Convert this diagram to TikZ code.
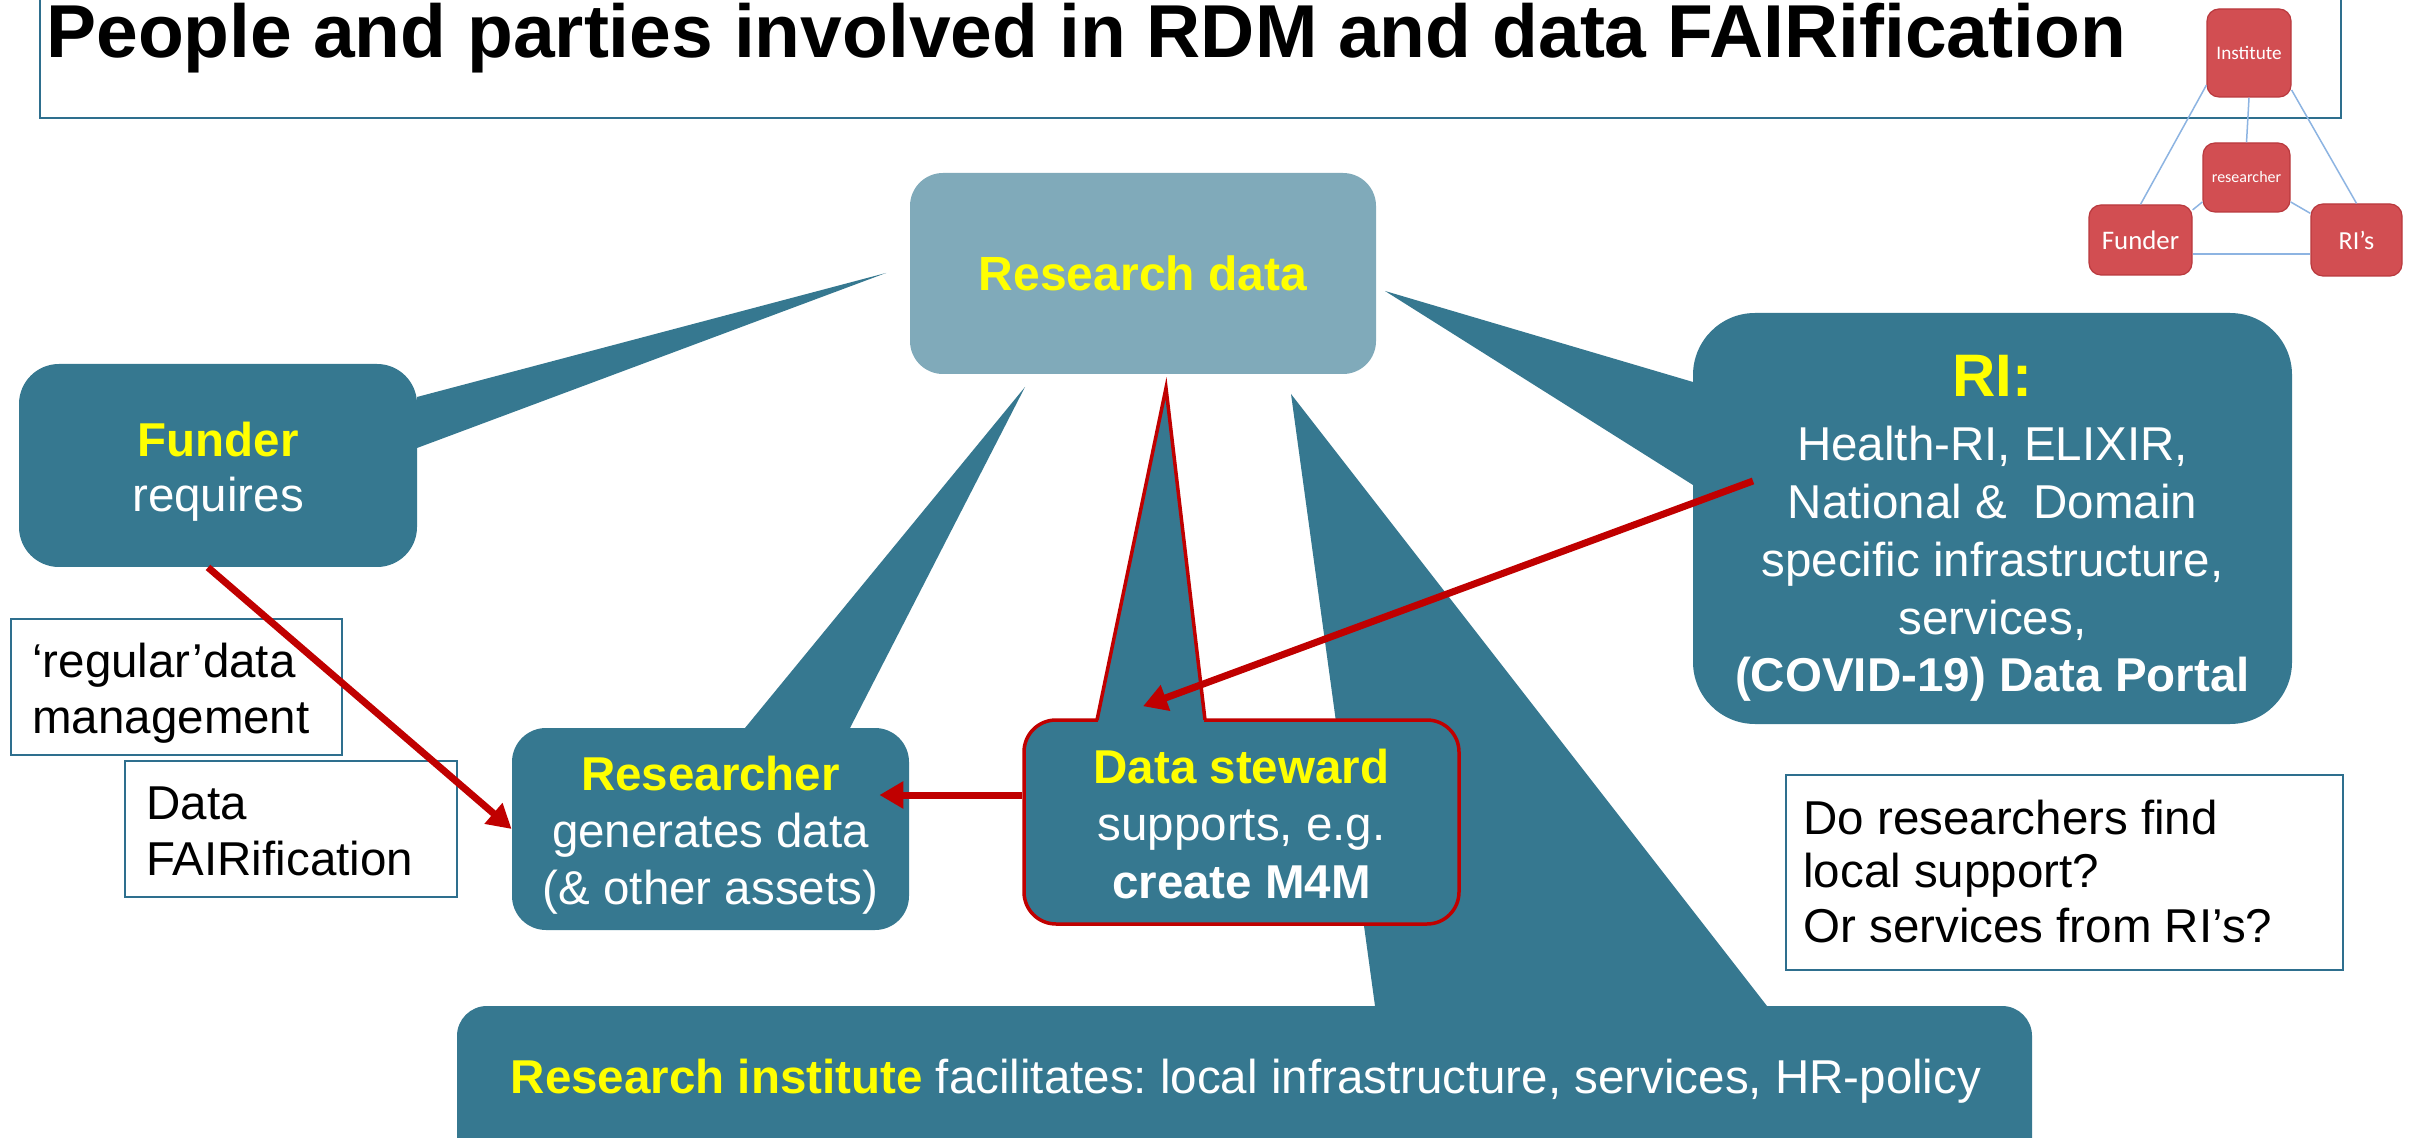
\documentclass[tikz,border=0pt]{standalone}
\usepackage{fontspec}
\setmainfont{Liberation Sans}
\newfontfamily\minifont{Carlito}
\usetikzlibrary{arrows.meta}
\definecolor{teal1}{HTML}{367890}
\definecolor{lightteal}{HTML}{80AABA}
\definecolor{hiyellow}{HTML}{FFFF00}
\definecolor{darkred}{HTML}{C00000}
\definecolor{boxline}{HTML}{2E6F8E}
\definecolor{minired}{HTML}{D24E52}
\definecolor{minibord}{HTML}{B9393E}
\definecolor{minilinkc}{HTML}{8DB4E2}
\frenchspacing
\begin{document}
\begin{tikzpicture}[x=0.5pt,y=-0.5pt,
  callout/.style={rectangle, fill=teal1, inner sep=0pt},
  bodytext/.style={font=\fontsize{23.75pt}{29pt}\selectfont, inner sep=0pt, anchor=base, text=white},
  plaintext/.style={font=\fontsize{23.75pt}{29pt}\selectfont, inner sep=0pt, anchor=base west, text=black},
  textbox/.style={rectangle, draw=boxline, line width=1pt, inner sep=0pt, fill=white},
  minibox/.style={rectangle, rounded corners=6pt, fill=minired, draw=minibord, line width=0.6pt, text=white, inner sep=0pt},
  minilink/.style={draw=minilinkc, line width=0.75pt},
  redarrow/.style={draw=darkred, line width=3.5pt, -{Triangle[length=12pt,width=13pt]}},
]
\useasboundingbox (0,0) rectangle (2414,1138);
\fill[white] (0,0) rectangle (2414,1138);

% title frame and title
\draw[boxline, line width=1.2pt] (40,-10) -- (40,118) -- (2341,118) -- (2341,-10);
\node[anchor=base west, inner sep=0pt, font=\fontsize{37.5pt}{45pt}\selectfont\bfseries] (title) at (46,58) {People and parties involved in RDM and data FAIRification};

% mini diagram
\node[minibox, minimum width=42pt, minimum height=44pt, font=\minifont\fontsize{9.6pt}{11pt}\selectfont] (minst) at (2249,53) {Institute};
\node[minibox, minimum width=43.5pt, minimum height=34.5pt, font=\minifont\fontsize{8pt}{10pt}\selectfont] (mres) at (2246.5,177.5) {researcher};
\node[minibox, minimum width=51.5pt, minimum height=35pt, font=\minifont\fontsize{13.4pt}{15pt}\selectfont] (mfund) at (2140.5,240) {Funder};
\node[minibox, minimum width=45.5pt, minimum height=36pt, font=\minifont\fontsize{13pt}{15pt}\selectfont] (mris) at (2356.5,240) {RI’s};
\draw[minilink] (minst.south) -- (mres.north);
\draw[minilink] (minst.217) -- (mfund.north);
\draw[minilink] (minst.-41) -- (mris.north);
\draw[minilink] (mres.209) -- (mfund.30);
\draw[minilink] (mres.-29) -- (mris.150);
\draw[minilink] (mfund.-15) -- (mfund.-15 -| mris.west);

% research institute (bottom) callout
\fill[teal1] (1375,1006) -- (1291,394) -- (1767,1006) -- cycle;
\node[callout, rounded corners=15pt, minimum width=787.5pt, minimum height=82pt] (inst) at (1244.5,1088) {};
\node[bodytext] (instT) at (1246,1093) {{\color{hiyellow}\bfseries Research institute} facilitates: local infrastructure, services, HR-policy};

% research data
\node[rectangle, fill=lightteal, rounded corners=16.5pt, minimum width=233pt, minimum height=100.5pt, inner sep=0pt, text=hiyellow, font=\fontsize{24pt}{29pt}\selectfont\bfseries] (rdata) at (1143,273.5) {Research data};

% funder callout
\fill[teal1] (417,397) -- (886,273) -- (417,448) -- cycle;
\node[callout, rounded corners=20pt, minimum width=199pt, minimum height=101.5pt] (funder) at (218,465.5) {};
\node[bodytext, text=hiyellow] (funderT1) at (218,457) {\bfseries Funder};
\node[bodytext] (funderT2) at (218,512) {requires};

% RI callout
\fill[teal1] (1693,382) -- (1385,291) -- (1693,485) -- cycle;
\node[callout, rounded corners=31pt, minimum width=299.5pt, minimum height=205.5pt] (ri) at (1992.5,518.5) {};
\node[bodytext, text=hiyellow, font=\fontsize{30pt}{36pt}\selectfont\bfseries] (riT0) at (1992.5,397) {RI:};
\node[bodytext] (riT1) at (1992.5,461) {Health-RI, ELIXIR,};
\node[bodytext] (riT2) at (1992.5,519) {National \& \ Domain};
\node[bodytext] (riT3) at (1992.5,577) {specific infrastructure,};
\node[bodytext] (riT4) at (1992.5,634) {services,};
\node[bodytext] (riT5) at (1992.5,691) {\bfseries (COVID-19) Data Portal};

% researcher callout
\fill[teal1] (745,728) -- (1025,387) -- (850,728) -- cycle;
\node[callout, rounded corners=17pt, minimum width=198.5pt, minimum height=101pt] (researcher) at (710.5,829) {};
\node[bodytext, text=hiyellow] (resT1) at (710.5,790) {\bfseries Researcher};
\node[bodytext] (resT2) at (710.5,847) {generates data};
\node[bodytext] (resT3) at (710.5,904) {(\& other assets)};

% data steward callout (red outline)
\node[callout, draw=darkred, line width=1.75pt, rounded corners=16pt, minimum width=217.5pt, minimum height=102pt] (steward) at (1241.5,822) {};
\fill[teal1] (1097,720) -- (1166,388) -- (1205,720) -- cycle;
\fill[teal1] (1098,716) rectangle (1204,724);
\draw[darkred, line width=1.75pt] (1097,720) -- (1166,388) -- (1205,720);
\node[bodytext, text=hiyellow] (stT1) at (1241.5,783) {\bfseries Data steward};
\node[bodytext] (stT2) at (1241.5,840) {supports, e.g.};
\node[bodytext] (stT3) at (1241.5,898) {\bfseries create M4M};

% plain text boxes
\node[textbox, minimum width=165.5pt, minimum height=68pt] (regbox) at (176.5,687) {};
\node[plaintext] (regT1) at (32,677) {‘regular’data};
\node[plaintext] (regT2) at (32,733) {management};
\node[textbox, minimum width=166pt, minimum height=68pt] (fairbox) at (291,829) {};
\node[plaintext] (fairT1) at (146,819) {Data};
\node[plaintext] (fairT2) at (146,875) {FAIRification};
\node[textbox, minimum width=278.5pt, minimum height=97.5pt] (qbox) at (2064.5,872.5) {};
\node[plaintext] (qT1) at (1803,834) {Do researchers find};
\node[plaintext] (qT2) at (1803,887) {local support?};
\node[plaintext] (qT3) at (1803,942) {Or services from RI’s?};

% red arrows
\draw[redarrow] ([xshift=-5pt]funder.south) -- (researcher.west);
\draw[redarrow] ([yshift=13.5pt]steward.west) -- ([xshift=-15pt,yshift=13.5pt]researcher.east |- steward.west);
\draw[redarrow] ([xshift=-119.75pt,yshift=18.75pt]ri.center) -- ([xshift=-49.25pt,yshift=6pt]steward.north);
\end{tikzpicture}
\end{document}
